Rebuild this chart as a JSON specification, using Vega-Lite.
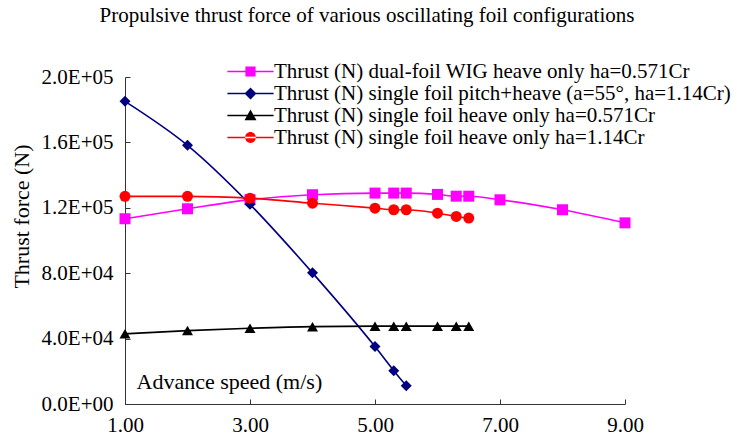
{
  "$schema": "https://vega.github.io/schema/vega-lite/v6.json",
  "width": 500,
  "height": 327,
  "autosize": {"type": "none"},
  "padding": {"left": 125, "top": 77, "right": 123, "bottom": 32},
  "background": "white",
  "config": {
    "font": "Liberation Serif",
    "view": {"stroke": null},
    "axis": {"grid": false, "domainColor": "#333333", "tickColor": "#333333", "labelColor": "black", "titleColor": "black", "labelFont": "Liberation Serif", "titleFont": "Liberation Serif", "titleFontWeight": "normal"}
  },
  "title": {"text": "Propulsive thrust force of various oscillating foil configurations", "fontSize": 21, "fontWeight": "normal", "font": "Liberation Serif", "anchor": "middle", "frame": "group", "dx": -8, "dy": -31, "color": "black"},
  "data": {"values": [
    {"series": "Thrust (N) dual-foil WIG heave only ha=0.571Cr", "speed": 1, "thrust": 113300},
    {"series": "Thrust (N) dual-foil WIG heave only ha=0.571Cr", "speed": 2, "thrust": 119400},
    {"series": "Thrust (N) dual-foil WIG heave only ha=0.571Cr", "speed": 3, "thrust": 125000},
    {"series": "Thrust (N) dual-foil WIG heave only ha=0.571Cr", "speed": 4, "thrust": 128000},
    {"series": "Thrust (N) dual-foil WIG heave only ha=0.571Cr", "speed": 5, "thrust": 129000},
    {"series": "Thrust (N) dual-foil WIG heave only ha=0.571Cr", "speed": 5.3, "thrust": 129000},
    {"series": "Thrust (N) dual-foil WIG heave only ha=0.571Cr", "speed": 5.5, "thrust": 129000},
    {"series": "Thrust (N) dual-foil WIG heave only ha=0.571Cr", "speed": 6, "thrust": 128200},
    {"series": "Thrust (N) dual-foil WIG heave only ha=0.571Cr", "speed": 6.3, "thrust": 127100},
    {"series": "Thrust (N) dual-foil WIG heave only ha=0.571Cr", "speed": 6.5, "thrust": 127100},
    {"series": "Thrust (N) dual-foil WIG heave only ha=0.571Cr", "speed": 7, "thrust": 124900},
    {"series": "Thrust (N) dual-foil WIG heave only ha=0.571Cr", "speed": 8, "thrust": 118800},
    {"series": "Thrust (N) dual-foil WIG heave only ha=0.571Cr", "speed": 9, "thrust": 110800},
    {"series": "Thrust (N) single foil pitch+heave (a=55°, ha=1.14Cr)", "speed": 1, "thrust": 185100},
    {"series": "Thrust (N) single foil pitch+heave (a=55°, ha=1.14Cr)", "speed": 2, "thrust": 158200},
    {"series": "Thrust (N) single foil pitch+heave (a=55°, ha=1.14Cr)", "speed": 3, "thrust": 122100},
    {"series": "Thrust (N) single foil pitch+heave (a=55°, ha=1.14Cr)", "speed": 4, "thrust": 80200},
    {"series": "Thrust (N) single foil pitch+heave (a=55°, ha=1.14Cr)", "speed": 5, "thrust": 35100},
    {"series": "Thrust (N) single foil pitch+heave (a=55°, ha=1.14Cr)", "speed": 5.3, "thrust": 20400},
    {"series": "Thrust (N) single foil pitch+heave (a=55°, ha=1.14Cr)", "speed": 5.5, "thrust": 11200},
    {"series": "Thrust (N) single foil heave only ha=0.571Cr", "speed": 1, "thrust": 42900},
    {"series": "Thrust (N) single foil heave only ha=0.571Cr", "speed": 2, "thrust": 44900},
    {"series": "Thrust (N) single foil heave only ha=0.571Cr", "speed": 3, "thrust": 46300},
    {"series": "Thrust (N) single foil heave only ha=0.571Cr", "speed": 4, "thrust": 47300},
    {"series": "Thrust (N) single foil heave only ha=0.571Cr", "speed": 5, "thrust": 47600},
    {"series": "Thrust (N) single foil heave only ha=0.571Cr", "speed": 5.3, "thrust": 47600},
    {"series": "Thrust (N) single foil heave only ha=0.571Cr", "speed": 5.5, "thrust": 47600},
    {"series": "Thrust (N) single foil heave only ha=0.571Cr", "speed": 6, "thrust": 47600},
    {"series": "Thrust (N) single foil heave only ha=0.571Cr", "speed": 6.3, "thrust": 47600},
    {"series": "Thrust (N) single foil heave only ha=0.571Cr", "speed": 6.5, "thrust": 47600},
    {"series": "Thrust (N) single foil heave only ha=1.14Cr", "speed": 1, "thrust": 127000},
    {"series": "Thrust (N) single foil heave only ha=1.14Cr", "speed": 2, "thrust": 127000},
    {"series": "Thrust (N) single foil heave only ha=1.14Cr", "speed": 3, "thrust": 125900},
    {"series": "Thrust (N) single foil heave only ha=1.14Cr", "speed": 4, "thrust": 122800},
    {"series": "Thrust (N) single foil heave only ha=1.14Cr", "speed": 5, "thrust": 119800},
    {"series": "Thrust (N) single foil heave only ha=1.14Cr", "speed": 5.3, "thrust": 118800},
    {"series": "Thrust (N) single foil heave only ha=1.14Cr", "speed": 5.5, "thrust": 118800},
    {"series": "Thrust (N) single foil heave only ha=1.14Cr", "speed": 6, "thrust": 116700},
    {"series": "Thrust (N) single foil heave only ha=1.14Cr", "speed": 6.3, "thrust": 114700},
    {"series": "Thrust (N) single foil heave only ha=1.14Cr", "speed": 6.5, "thrust": 113700}
  ]},
  "encoding": {
    "x": {"field": "speed", "type": "quantitative", "scale": {"domain": [1, 9], "nice": false, "zero": false},
      "axis": {"values": [1, 3, 5, 7, 9], "format": ".2f", "title": "Advance speed (m/s)", "labelFontSize": 21, "titleFontSize": 22, "labelPadding": 15, "tickSize": -5, "labelFlush": false, "titleAnchor": "start", "titleAlign": "left", "titleBaseline": "alphabetic", "titleX": 11, "titleY": -16}},
    "y": {"field": "thrust", "type": "quantitative", "scale": {"domain": [0, 200000], "nice": false},
      "axis": {"values": [0, 40000, 80000, 120000, 160000, 200000], "format": ".1e", "labelExpr": "replace(format(datum.value, '.1e'), 'e+', 'E+0')", "title": "Thrust force (N)", "labelFontSize": 21, "titleFontSize": 22, "tickSize": -5, "labelPadding": 17, "labelFlush": false, "titleAngle": 270, "titleAlign": "center", "titleBaseline": "middle", "titleX": -104, "titleY": 139}}
  },
  "layer": [
    {
      "mark": {"type": "line", "interpolate": "monotone", "strokeWidth": 1.6},
      "encoding": {
        "color": {"field": "series", "type": "nominal", "legend": null,
          "scale": {"domain": ["Thrust (N) dual-foil WIG heave only ha=0.571Cr", "Thrust (N) single foil pitch+heave (a=55°, ha=1.14Cr)", "Thrust (N) single foil heave only ha=0.571Cr", "Thrust (N) single foil heave only ha=1.14Cr"], "range": ["#FF00FF", "#000080", "#000000", "#FF0000"]}}
      }
    },
    {
      "mark": {"type": "point", "filled": true, "opacity": 1, "size": 121},
      "encoding": {
        "color": {"field": "series", "type": "nominal", "legend": null,
          "scale": {"domain": ["Thrust (N) dual-foil WIG heave only ha=0.571Cr", "Thrust (N) single foil pitch+heave (a=55°, ha=1.14Cr)", "Thrust (N) single foil heave only ha=0.571Cr", "Thrust (N) single foil heave only ha=1.14Cr"], "range": ["#FF00FF", "#000080", "#000000", "#FF0000"]}},
        "shape": {"field": "series", "type": "nominal", "legend": null,
          "scale": {"domain": ["Thrust (N) dual-foil WIG heave only ha=0.571Cr", "Thrust (N) single foil pitch+heave (a=55°, ha=1.14Cr)", "Thrust (N) single foil heave only ha=0.571Cr", "Thrust (N) single foil heave only ha=1.14Cr"], "range": ["square", "diamond", "triangle-up", "circle"]}}
      }
    },
    {
      "mark": {"type": "point", "filled": true, "opacity": 0},
      "encoding": {
        "color": {"field": "series", "type": "nominal",
          "scale": {"domain": ["Thrust (N) dual-foil WIG heave only ha=0.571Cr", "Thrust (N) single foil pitch+heave (a=55°, ha=1.14Cr)", "Thrust (N) single foil heave only ha=0.571Cr", "Thrust (N) single foil heave only ha=1.14Cr"], "range": ["#FF00FF", "#000080", "#000000", "#FF0000"]},
          "legend": {"title": null, "orient": "none", "legendX": 115, "legendY": -16, "symbolSize": 144, "symbolOpacity": 1, "symbolStrokeWidth": 0, "labelFontSize": 21, "labelFont": "Liberation Serif", "labelColor": "black", "labelOffset": 13, "rowPadding": 0, "gridAlign": "all", "labelLimit": 600, "padding": 0}},
        "shape": {"field": "series", "type": "nominal",
          "scale": {"domain": ["Thrust (N) dual-foil WIG heave only ha=0.571Cr", "Thrust (N) single foil pitch+heave (a=55°, ha=1.14Cr)", "Thrust (N) single foil heave only ha=0.571Cr", "Thrust (N) single foil heave only ha=1.14Cr"],
            "range": [
              "M-3.85,-0.13H3.85V0.13H-3.85Z M-0.85,-0.85H0.85V0.85H-0.85Z",
              "M-3.85,-0.13H3.85V0.13H-3.85Z M0,-1L1,0L0,1L-1,0Z",
              "M-3.85,-0.13H3.85V0.13H-3.85Z M0,-1L1,0.8L-1,0.8Z",
              "M-3.85,-0.13H3.85V0.13H-3.85Z M-0.9,0A0.9,0.9 0 1,0 0.9,0A0.9,0.9 0 1,0 -0.9,0Z"
            ]},
          "legend": {"title": null, "orient": "none", "legendX": 115, "legendY": -16, "symbolSize": 144, "symbolOpacity": 1, "symbolStrokeWidth": 0, "labelFontSize": 21, "labelFont": "Liberation Serif", "labelColor": "black", "labelOffset": 13, "rowPadding": 0, "gridAlign": "all", "labelLimit": 600, "padding": 0}}
      }
    }
  ],
  "resolve": {"scale": {"color": "independent", "shape": "independent"}}
}
